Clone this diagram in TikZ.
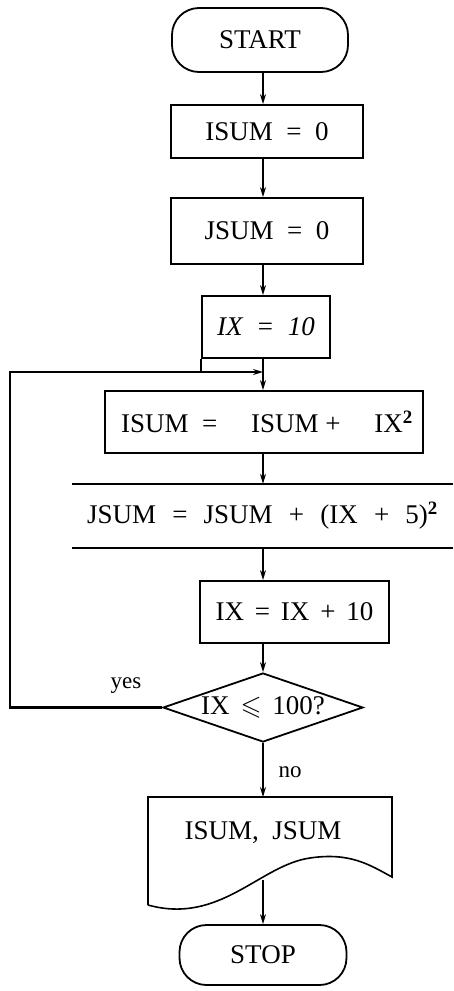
\documentclass[tikz,border=0pt]{standalone}
\usepackage{fontspec}
\setmainfont{Liberation Serif}
\usepackage{amssymb}
\usetikzlibrary{arrows.meta,shapes.geometric}
\newcommand{\gp}{\hspace{0.6em}}
\newcommand{\gq}{\hspace{0.4em}}
\begin{document}
\begin{tikzpicture}[x=1pt,y=-1pt,
  every node/.style={font=\fontsize{27}{31}\selectfont},
  lbl/.style={font=\fontsize{23}{27}\selectfont},
  line/.style={line width=1.6pt},
  thickline/.style={line width=2.6pt},
  arr/.style={line width=1.4pt,-{Stealth[length=10pt,width=6pt]}},
  box/.style={draw,line width=1.8pt,inner sep=0pt},
  term/.style={box,rounded corners=27pt}]
\useasboundingbox (0,0) rectangle (453,991);
\coordinate (ax) at (263,0);
% nodes
\node[term,minimum width=176pt,minimum height=64pt] (start) at (260,40) {START};
\node[box,minimum width=192pt,minimum height=53pt] (s0) at (267,131.5) {ISUM \ = \ 0};
\node[box,minimum width=192pt,minimum height=66pt] (j0) at (267,231) {JSUM \ = \ 0};
\node[box,minimum width=128pt,minimum height=62pt] (ix) at (266,327) {\textit{IX \ = \ 10}};
\node[box,minimum width=318pt,minimum height=62pt] (isum) at (264,422) {\hspace{6pt}ISUM \ = \quad ISUM + \quad IX\textsuperscript{\textbf{2}}};
\node[inner sep=0pt,minimum width=381pt,minimum height=64pt] (jsum) at (262.5,516) {JSUM\gp=\gp JSUM\gp+\gp(IX\gp+\gp5)\textsuperscript{\textbf{2}}};
\draw[line] (jsum.north west) -- (jsum.north east);
\draw[line] (jsum.south west) -- (jsum.south east);
\node[box,minimum width=189pt,minimum height=62pt] (ixinc) at (294.5,612) {IX\gq=\gq IX\gq+\gq10};
\node[draw,diamond,line width=1.8pt,inner sep=0pt,aspect=2.9,minimum width=200pt,minimum height=69pt] (dec) at (263,707.5) {IX\gq$\leqslant$\gq100?};
% document shape
\coordinate (dtl) at (148,797);
\coordinate (dtr) at (392,797);
\coordinate (dbr) at (392,877);
\coordinate (dbl) at (148,905);
\draw[line] (dbl) -- (dtl) -- (dtr) -- (dbr)
  .. controls (370,865) and (350,852) .. (310,858)
  .. controls (260,865) and (220,925) .. (dbl);
\node (doc) at (263,833) {ISUM, \ JSUM};
\coordinate (docbot) at (263,880);
\node[term,minimum width=167pt,minimum height=60pt] (stop) at (263,955) {STOP};
% connectors
\draw[arr] (ax |- start.south) -- (ax |- s0.north);
\draw[arr] (ax |- s0.south) -- (ax |- j0.north);
\draw[arr] (ax |- j0.south) -- (ax |- ix.north);
\coordinate (join) at (263,372);
\coordinate (fbl) at (10,707.5);
\coordinate (fbt) at (10,372);
\draw[arr] (ax |- ix.south) -- (ax |- isum.north);
\draw[line] (ix.south west) -- (ix.south west |- join);
\draw[thickline] (dec.west) -- (fbl) -- (fbt) -- ([xshift=-6pt]join);
\draw[arr] (fbt) -- (join);
\draw[arr] (ax |- isum.south) -- (ax |- jsum.north);
\draw[arr] (ax |- jsum.south) -- (ax |- ixinc.north);
\draw[arr] (ax |- ixinc.south) -- (dec.north);
\draw[arr] (dec.south) -- (ax |- dtl);
\draw[arr] (docbot) -- (stop.north);
\node[lbl] (yes) at (126,686) {yes};
\node[lbl] (no) at (290,772) {no};
\end{tikzpicture}
\end{document}
